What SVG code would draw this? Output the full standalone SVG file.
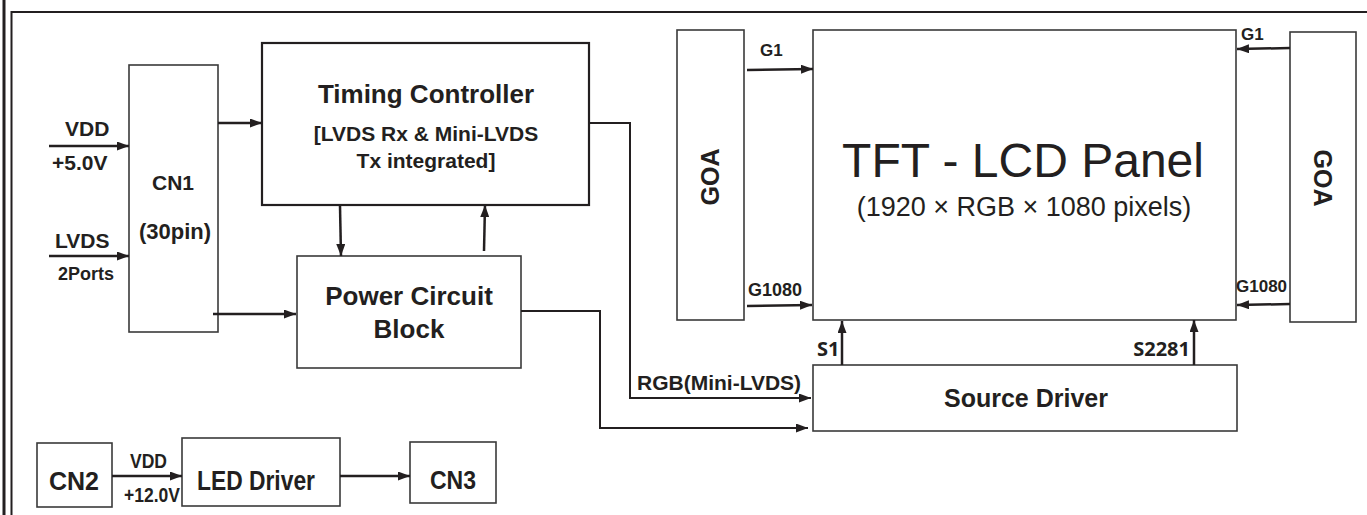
<svg xmlns="http://www.w3.org/2000/svg" width="1367" height="515" viewBox="0 0 1367 515">
<style>
.box{fill:#fff;stroke:#3a3a3a;stroke-width:1.6}
.boxb{fill:#fff;stroke:#231f20;stroke-width:2.2}
.ln{fill:none;stroke:#231f20;stroke-width:2.5}
.ln1{fill:none;stroke:#231f20;stroke-width:2}
.t{font-family:"Liberation Sans",Arial,sans-serif;font-weight:bold;fill:#231f20}
.m{text-anchor:middle}
.o{font-family:"Open Sans","Liberation Sans",sans-serif;font-weight:bold;fill:#231f20}
</style>
<defs>
<marker id="ah" viewBox="0 0 12 9" refX="12" refY="4.5" markerWidth="12" markerHeight="9" markerUnits="userSpaceOnUse" orient="auto">
<path d="M0,0 L12,4.5 L0,9 Z" fill="#231f20"/>
</marker>
</defs>
<g id="frame">
<line x1="4" y1="0" x2="4" y2="515" stroke="#231f20" stroke-width="3"/>
<polyline points="11.5,515 11.5,12 1367,12" fill="none" stroke="#231f20" stroke-width="2"/>
</g>
<g id="cn1"><rect class="box" x="129" y="65" width="89" height="267"/>
<text class="t m" x="173" y="190" font-size="21">CN1</text>
<text class="t m" x="175" y="239" font-size="22">(30pin)</text></g>
<g id="tcon"><rect class="boxb" x="262" y="43" width="327" height="162"/>
<text class="t m" x="426" y="103" font-size="26">Timing Controller</text>
<text class="t m" x="426" y="141" font-size="21">[LVDS Rx &amp; Mini-LVDS</text>
<text class="t m" x="426" y="168" font-size="21">Tx integrated]</text></g>
<g id="power"><rect class="box" x="297" y="256" width="224" height="112"/>
<text class="t m" x="409" y="305" font-size="26">Power Circuit</text>
<text class="t m" x="409" y="338" font-size="26">Block</text></g>
<g id="goa-left"><rect class="box" x="677" y="30" width="67" height="290"/>
<text class="t m" font-size="25" transform="translate(719,177) rotate(-90)">GOA</text></g>
<g id="panel"><rect class="box" x="813" y="30" width="423" height="290"/>
<text x="1023" y="177" font-family="Liberation Sans,Arial,sans-serif" font-size="48" fill="#231f20" text-anchor="middle">TFT - LCD Panel</text>
<text x="1024" y="216" font-family="Liberation Sans,Arial,sans-serif" font-size="27" fill="#231f20" text-anchor="middle">(1920 × RGB × 1080 pixels)</text></g>
<g id="goa-right"><rect class="box" x="1290" y="32" width="66" height="290"/>
<text class="t m" font-size="25" transform="translate(1314,178) rotate(90)">GOA</text></g>
<g id="source"><rect class="box" x="813" y="365" width="424" height="66"/>
<text class="t m" x="1026" y="407" font-size="25">Source Driver</text></g>
<g id="cn2"><rect class="box" x="37" y="443" width="75" height="64"/>
<text class="t m" x="74" y="490" font-size="25" textLength="50" lengthAdjust="spacingAndGlyphs">CN2</text></g>
<g id="led"><rect class="box" x="182" y="438" width="158" height="68"/>
<text class="t m" x="256" y="490" font-size="27" textLength="118" lengthAdjust="spacingAndGlyphs">LED Driver</text></g>
<g id="cn3"><rect class="box" x="410" y="442" width="86" height="61"/>
<text class="t m" x="453" y="489" font-size="26" textLength="46" lengthAdjust="spacingAndGlyphs">CN3</text></g>
<g id="connectors">
<line class="ln" x1="49" y1="146" x2="129" y2="146" marker-end="url(#ah)"/>
<line class="ln" x1="49" y1="256" x2="129" y2="256" marker-end="url(#ah)"/>
<line class="ln" x1="218" y1="123" x2="262" y2="123" marker-end="url(#ah)"/>
<line class="ln" x1="213" y1="314" x2="296" y2="314" marker-end="url(#ah)"/>
<line class="ln" x1="340" y1="206" x2="341" y2="256" marker-end="url(#ah)"/>
<line class="ln" x1="484" y1="251" x2="485" y2="205" marker-end="url(#ah)"/>
<polyline class="ln1" points="589,123 630,123 630,398 811,398" marker-end="url(#ah)"/>
<polyline class="ln1" points="521,311 600,311 600,428 808,428" marker-end="url(#ah)"/>
<line class="ln" x1="747" y1="70" x2="813" y2="69" marker-end="url(#ah)"/>
<line class="ln" x1="747" y1="306" x2="812" y2="305" marker-end="url(#ah)"/>
<line class="ln" x1="1290" y1="48" x2="1237" y2="49" marker-end="url(#ah)"/>
<line class="ln" x1="1290" y1="304" x2="1237" y2="305" marker-end="url(#ah)"/>
<line class="ln" x1="842" y1="365" x2="842" y2="321" marker-end="url(#ah)"/>
<line class="ln" x1="1194" y1="365" x2="1194" y2="320" marker-end="url(#ah)"/>
<line class="ln" x1="112" y1="476" x2="182" y2="476" marker-end="url(#ah)"/>
<line class="ln" x1="340" y1="476" x2="410" y2="476" marker-end="url(#ah)"/>
</g>
<g id="labels">
<text class="t" x="65" y="136" font-size="21">VDD</text>
<text class="t" x="52" y="170" font-size="21">+5.0V</text>
<text class="t" x="55" y="248" font-size="21">LVDS</text>
<text class="t" x="58" y="280" font-size="18">2Ports</text>
<text class="t" x="760" y="56" font-size="17">G1</text>
<text class="t" x="748" y="296" font-size="18">G1080</text>
<text class="t" x="1241" y="40" font-size="17">G1</text>
<text class="t" x="1236" y="292" font-size="17">G1080</text>
<text class="t" x="637" y="390" font-size="21">RGB(Mini-LVDS)</text>
<text class="o" x="817" y="356" font-size="20">S1</text>
<text class="o" x="1190" y="356" font-size="20" text-anchor="end">S2281</text>
<text class="t" x="130" y="468" font-size="20" textLength="37" lengthAdjust="spacingAndGlyphs">VDD</text>
<text class="t" x="124" y="502" font-size="21" textLength="56" lengthAdjust="spacingAndGlyphs">+12.0V</text>
</g>
</svg>
